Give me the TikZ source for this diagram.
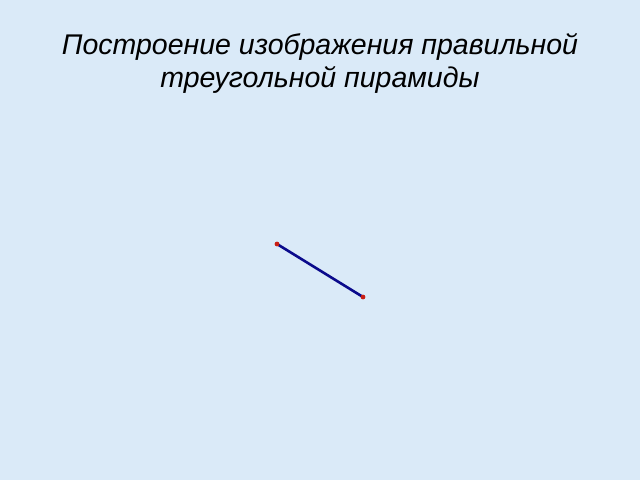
\documentclass[tikz,border=0pt]{standalone}
\usepackage{fontspec}
\setmainfont{Liberation Sans}
\usepackage{tikz}
\usetikzlibrary{positioning,calc}

\definecolor{bgblue}{RGB}{218,234,248}
\definecolor{segblue}{RGB}{10,10,140}
\definecolor{ptred}{RGB}{200,30,20}

\begin{document}
\begin{tikzpicture}[x=1pt,y=-1pt]
% Background
\fill[bgblue] (0,0) rectangle (640,480);
\useasboundingbox (0,0) rectangle (640,480);

% Title
\node[font=\fontsize{28.5}{33}\selectfont\itshape,align=center] (title) at (320,63)
    {Построение изображения правильной\\треугольной пирамиды};

% Segment
\coordinate (A) at (277,244);
\coordinate (B) at (363,297);
\draw[segblue,line width=2.6pt] (A) -- (B);
\foreach \p in {A,B}
    \fill[ptred] (\p) circle (2.4pt);
\end{tikzpicture}
\end{document}
